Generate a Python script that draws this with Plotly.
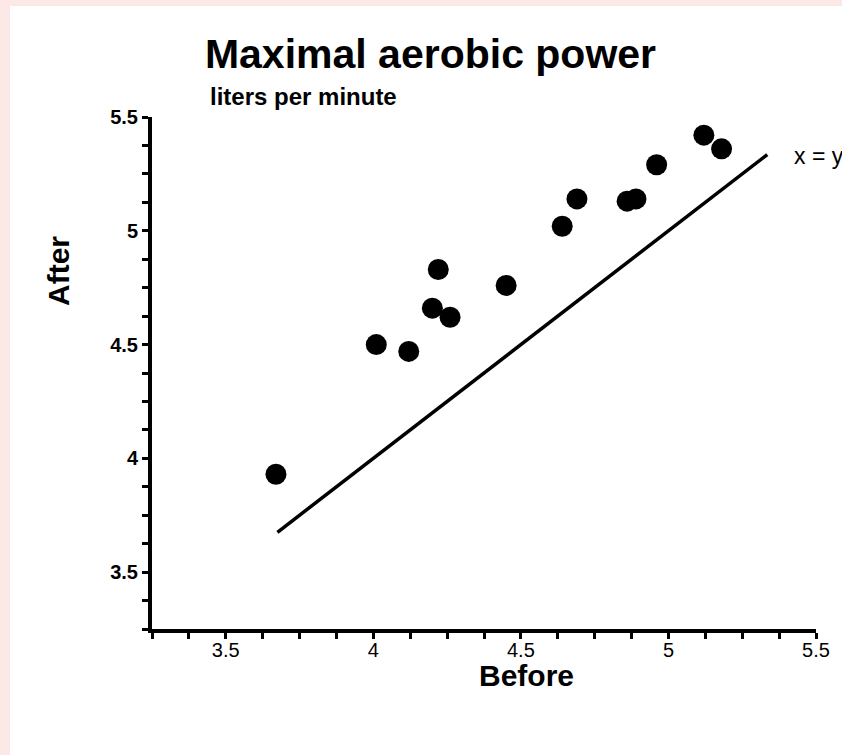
import plotly.graph_objects as go

# Data (liters per minute)
before = [3.67, 4.01, 4.12, 4.22, 4.20, 4.26, 4.45, 4.64, 4.69, 4.86, 4.89, 4.96, 5.12, 5.18]
after = [3.93, 4.50, 4.47, 4.83, 4.66, 4.62, 4.76, 5.02, 5.14, 5.13, 5.14, 5.29, 5.42, 5.36]
identity_line = [3.675, 5.335]

title_text = "Maximal aerobic power"
subtitle_text = "liters per minute"
x_title = "Before"
y_title = "After"
line_label = "x = y"

W, H = 842, 755
L, R, T, B = 152, 26, 117, 126
PW, PH = W - L - R, H - T - B
FONT = "Liberation Sans, Arial, Helvetica, sans-serif"


def px(x):
    return (x - L) / PW


def py(y):
    return (H - B - y) / PH


fig = go.Figure()
fig.add_trace(go.Scatter(x=identity_line, y=identity_line, mode="lines",
                         line=dict(color="black", width=3.5),
                         hoverinfo="skip", showlegend=False))
fig.add_trace(go.Scatter(x=before, y=after, mode="markers",
                         marker=dict(color="black", size=21),
                         showlegend=False))

axis_common = dict(
    range=[3.25, 5.5], tickmode="linear", tick0=3.5, dtick=0.5,
    showline=True, linewidth=4, linecolor="black", mirror=False,
    ticks="outside", ticklen=6, tickwidth=2.5, tickcolor="black",
    showgrid=False, zeroline=False,
    minor=dict(tick0=3.25, dtick=0.125, ticks="outside", ticklen=6,
               tickwidth=2.5, tickcolor="black", showgrid=False),
)
fig.update_xaxes(**axis_common, ticklabelstandoff=-6,
                 tickfont=dict(family=FONT, size=20, color="black"))
fig.update_yaxes(**axis_common,
                 tickfont=dict(family=FONT, size=20, color="black", weight="bold"))

fig.update_layout(
    width=W, height=H,
    margin=dict(l=L, r=R, t=T, b=B),
    paper_bgcolor="rgb(253,232,232)",
    plot_bgcolor="white",
    font=dict(family=FONT, color="black"),
    title=dict(text=f"<b>{title_text}</b>", x=430.5 / W, xanchor="center",
               y=1 - 54 / H, yanchor="middle", xref="container", yref="container",
               font=dict(family=FONT, size=41, color="black")),
    shapes=[dict(type="rect", xref="paper", yref="paper",
                 x0=px(10), x1=px(W + 5), y0=py(H + 5), y1=py(6),
                 fillcolor="white", line=dict(width=0), layer="below")],
    annotations=[
        dict(text=f"<b>{subtitle_text}</b>", xref="paper", yref="paper",
             x=px(208), y=py(96), xanchor="left", yanchor="middle",
             showarrow=False, font=dict(family=FONT, size=24, color="black")),
        dict(text=f"<b>{y_title}</b>", xref="paper", yref="paper",
             x=px(58), y=py(271), xanchor="center", yanchor="middle",
             textangle=-90, showarrow=False,
             font=dict(family=FONT, size=30, color="black")),
        dict(text=f"<b>{x_title}</b>", xref="paper", yref="paper",
             x=px(526), y=py(675), xanchor="center", yanchor="middle",
             showarrow=False, font=dict(family=FONT, size=30, color="black")),
        dict(text=line_label, xref="paper", yref="paper",
             x=px(792), y=py(156), xanchor="left", yanchor="middle",
             showarrow=False, font=dict(family=FONT, size=23, color="black")),
    ],
)

fig.write_html(
    "out.html",
    config={"displayModeBar": False},
    post_script="document.body.style.margin='0';document.body.style.overflow='hidden';",
)
